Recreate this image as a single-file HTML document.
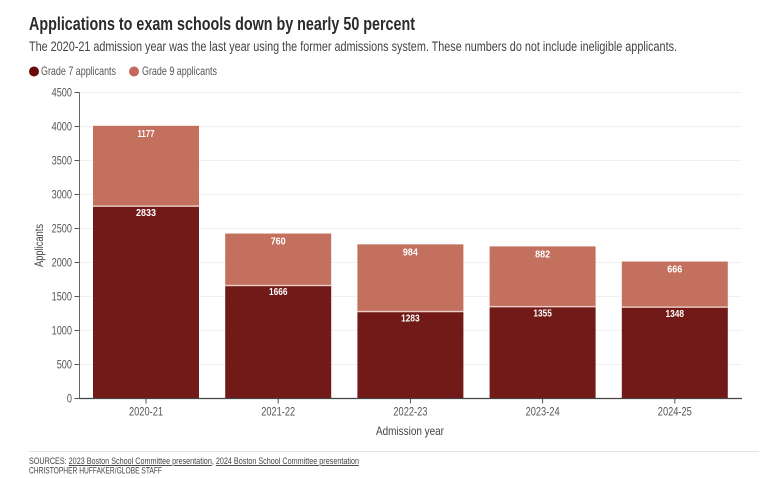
<!DOCTYPE html>
<html>
<head>
<meta charset="utf-8">
<title>Applications to exam schools</title>
<style>
html,body{margin:0;padding:0;background:#fff;width:774px;height:478px;overflow:hidden}
svg{display:block;font-family:"Liberation Sans Narrow","Liberation Sans",sans-serif}
</style>
</head>
<body>
<svg id="chart" width="774" height="478" viewBox="0 0 774 478" xmlns="http://www.w3.org/2000/svg">
<rect width="774" height="478" fill="#fff"/>
<text x="29" y="30" font-size="18" font-weight="700" fill="#2b2b2b" style="font-family:'Liberation Sans',sans-serif" textLength="386" lengthAdjust="spacingAndGlyphs">Applications to exam schools down by nearly 50 percent</text>
<text x="29" y="51" font-size="13.5" fill="#444" style="font-family:'Liberation Sans',sans-serif" textLength="648" lengthAdjust="spacingAndGlyphs">The 2020-21 admission year was the last year using the former admissions system. These numbers do not include ineligible applicants.</text>
<g>
<g>
<circle cx="34" cy="71.5" r="5" fill="#6a0a0a"/>
<text x="41" y="75" font-size="12" fill="#555" style="font-family:'Liberation Sans',sans-serif" textLength="75" lengthAdjust="spacingAndGlyphs">Grade 7 applicants</text>
</g>
<g>
<circle cx="134" cy="71.5" r="5" fill="#c4695a"/>
<text x="142" y="75" font-size="12" fill="#555" style="font-family:'Liberation Sans',sans-serif" textLength="75" lengthAdjust="spacingAndGlyphs">Grade 9 applicants</text>
</g>
</g>
<g id="grid"></g>
<g id="bars"></g>
<g id="axes"></g>
<text transform="translate(43,245.5) rotate(-90)" text-anchor="middle" font-size="12" fill="#444" style="font-family:'Liberation Sans',sans-serif" textLength="43" lengthAdjust="spacingAndGlyphs">Applicants</text>
<text x="410" y="435" text-anchor="middle" font-size="12" fill="#444" style="font-family:'Liberation Sans',sans-serif" textLength="68" lengthAdjust="spacingAndGlyphs">Admission year</text>
<line x1="29" x2="759" y1="451.5" y2="451.5" stroke="#e4e4e4" stroke-width="1"/>
<text x="29" y="464" font-size="9.5" fill="#444" style="font-family:'Liberation Sans',sans-serif" textLength="330" lengthAdjust="spacingAndGlyphs">SOURCES: <tspan text-decoration="underline">2023 Boston School Committee presentation</tspan>, <tspan text-decoration="underline">2024 Boston School Committee presentation</tspan></text>
<text x="29" y="473.5" font-size="9.5" fill="#444" style="font-family:'Liberation Sans',sans-serif" textLength="133" lengthAdjust="spacingAndGlyphs">CHRISTOPHER HUFFAKER/GLOBE STAFF</text>
</svg>
<script>
const categories = ['2020-21', '2021-22', '2022-23', '2023-24', '2024-25'];
const grade7Values = [2833, 1666, 1283, 1355, 1348];
const grade9Values = [1177, 760, 984, 882, 666];
const yTicks = [0, 500, 1000, 1500, 2000, 2500, 3000, 3500, 4000, 4500];

const NS = 'http://www.w3.org/2000/svg';
const plotLeft = 79.5, plotRight = 742, plotTop = 92.5, plotBottom = 398.5;
const yMax = 4500;
const firstCenter = 146, step = 132.2, barWidth = 106;
const y = v => plotBottom - (v / yMax) * (plotBottom - plotTop);
const x = i => firstCenter + i * step;
const digitsWidth = n => String(n).split('').reduce((w, d) => w + (d === '1' ? 3.5 : 5), 0);
const gridG = document.getElementById('grid');
const barsG = document.getElementById('bars');
const axesG = document.getElementById('axes');

function make(tag, attrs, parent, text) {
  const el = document.createElementNS(NS, tag);
  for (const k in attrs) el.setAttribute(k, attrs[k]);
  if (text !== undefined) el.textContent = text;
  parent.appendChild(el);
  return el;
}
const sans = "font-family:'Liberation Sans',sans-serif";

yTicks.forEach(t => {
  if (t > 0) {
    const g = make('line', {x1: plotLeft, x2: plotRight, y1: y(t), y2: y(t), stroke: '#f1f1f1', 'stroke-width': 1}, gridG);
    
    
  }
  const tick = make('line', {x1: plotLeft - 5, x2: plotLeft, y1: y(t), y2: y(t), stroke: '#555', 'stroke-width': 1}, axesG);
  
  
  const lab = make('text', {x: plotLeft - 7.5, y: y(t) + 4, 'text-anchor': 'end', 'font-size': 11.5, fill: '#555', style: sans}, axesG, String(t));
  
  
  lab.setAttribute('textLength', String(t).length * 5.1);
  lab.setAttribute('lengthAdjust', 'spacingAndGlyphs');
});

categories.forEach((c, i) => {
  const cx = x(i);
  const y7 = y(grade7Values[i]);
  const y9 = y(grade7Values[i] + grade9Values[i]);
  const b7 = make('rect', {x: cx - barWidth / 2, y: y7, width: barWidth, height: plotBottom - y7, fill: '#721a17'}, barsG);
  
  
  const b9 = make('rect', {x: cx - barWidth / 2, y: y9, width: barWidth, height: y7 - y9, fill: '#c4705f'}, barsG);
  
  
  const sep = make('rect', {x: cx - barWidth / 2, y: y7 - 0.4, width: barWidth, height: 1.4, fill: '#eacfca'}, barsG);
  
  
  const l7 = make('text', {x: cx, y: y7 + 10, 'text-anchor': 'middle', 'font-size': 10.5, 'font-weight': 700, fill: '#fff', style: sans}, barsG, String(grade7Values[i]));
  
  
  l7.setAttribute('textLength', digitsWidth(grade7Values[i]));
  l7.setAttribute('lengthAdjust', 'spacingAndGlyphs');
  const l9 = make('text', {x: cx, y: y9 + 11, 'text-anchor': 'middle', 'font-size': 10.5, 'font-weight': 700, fill: '#fff', style: sans}, barsG, String(grade9Values[i]));
  
  
  l9.setAttribute('textLength', digitsWidth(grade9Values[i]));
  l9.setAttribute('lengthAdjust', 'spacingAndGlyphs');
  const tk = make('line', {x1: cx, x2: cx, y1: plotBottom, y2: plotBottom + 5, stroke: '#555', 'stroke-width': 1}, axesG);
  
  
  const xl = make('text', {x: cx, y: plotBottom + 17, 'text-anchor': 'middle', 'font-size': 12, fill: '#555', style: sans, textLength: 34, lengthAdjust: 'spacingAndGlyphs'}, axesG, c);
  
  
});

const yAxis = make('line', {x1: plotLeft, x2: plotLeft, y1: plotTop, y2: plotBottom + 0.5, stroke: '#666', 'stroke-width': 1}, axesG);


const xAxis = make('line', {x1: plotLeft, x2: plotRight, y1: plotBottom, y2: plotBottom, stroke: '#444', 'stroke-width': 1.3}, axesG);


</script>
</body>
</html>
